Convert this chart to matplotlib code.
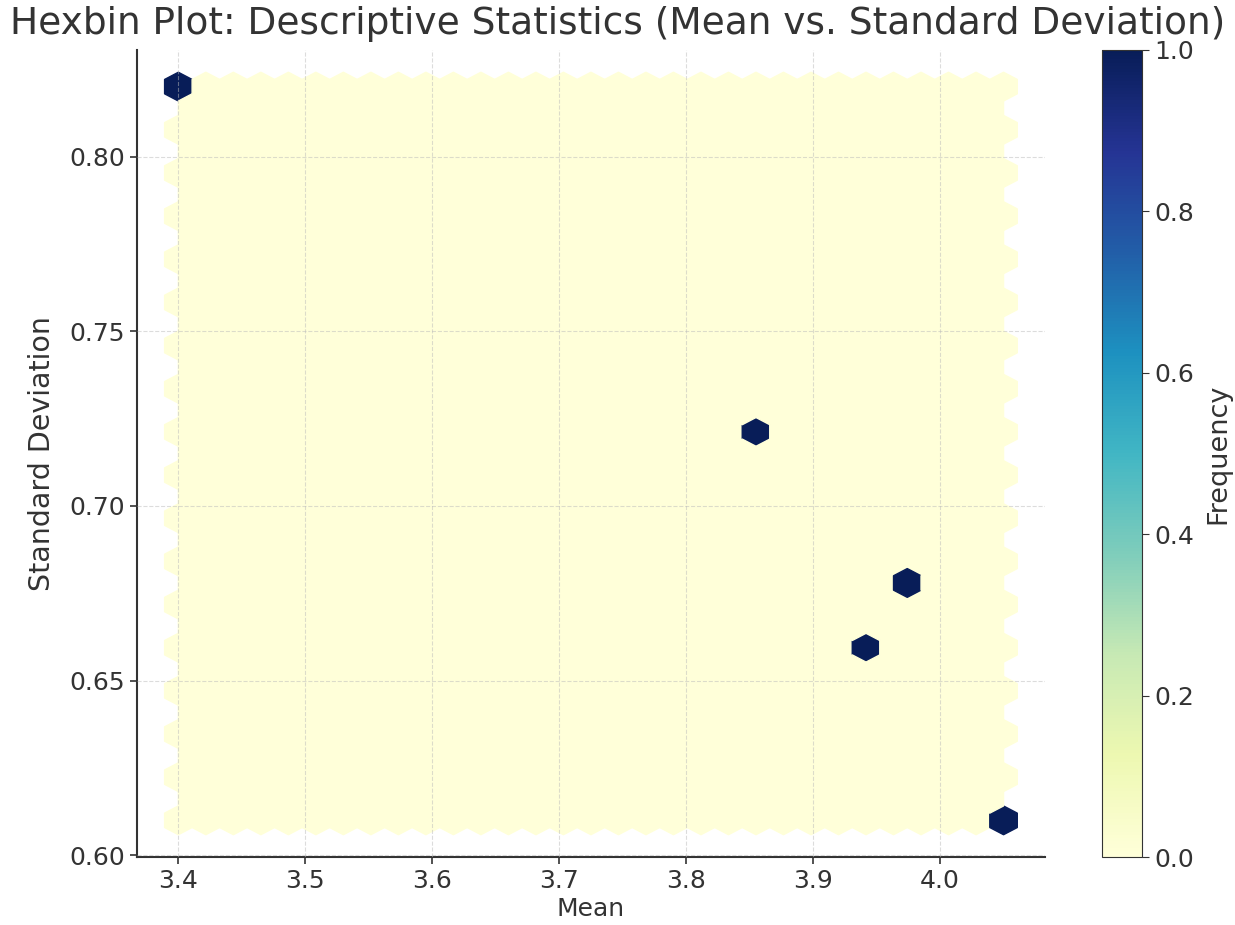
import numpy as np
import matplotlib
matplotlib.use("Agg")
import matplotlib.pyplot as plt

# descriptive statistics of the five items
means = [3.40, 3.855, 3.94, 3.97, 4.05]
std_devs = [0.82, 0.72, 0.66, 0.68, 0.61]

fig = plt.figure(figsize=(12.35, 9.25), dpi=100)
ax = fig.add_axes([0.111, 0.0735, 0.735, 0.8725])
cax = fig.add_axes([0.892, 0.0735, 0.033, 0.8725])

hb = ax.hexbin(means, std_devs, gridsize=30, cmap='YlGnBu')

fig.text(0.5, 0.963, 'Hexbin Plot: Descriptive Statistics (Mean vs. Standard Deviation)',
         fontsize=27, color='#333333', ha='center', va='baseline')
ax.set_xlabel('Mean', fontsize=18, color='#333333', labelpad=3)
ax.set_ylabel('Standard Deviation', fontsize=20.5, color='#333333', labelpad=10)
ax.set_xticks([3.4, 3.5, 3.6, 3.7, 3.8, 3.9, 4.0])
ax.set_yticks([0.60, 0.65, 0.70, 0.75, 0.80])
ax.tick_params(labelsize=18, colors='#333333', length=5, width=1.2)
ax.yaxis.set_major_formatter(matplotlib.ticker.FormatStrFormatter('%.2f'))

for s in ['top', 'right']:
    ax.spines[s].set_visible(False)
for s in ['left', 'bottom']:
    ax.spines[s].set_color('#333333')
    ax.spines[s].set_linewidth(1.5)

ax.set_axisbelow(False)
ax.grid(True, linestyle='--', linewidth=0.8, color='#bbbbbb', alpha=0.5)

cb = fig.colorbar(hb, cax=cax)
cb.set_label('Frequency', fontsize=19.5, color='#333333', labelpad=8)
cb.ax.tick_params(labelsize=18, colors='#333333', length=5)
cb.outline.set_edgecolor('#333333')

fig.savefig('out.png', dpi=100)
